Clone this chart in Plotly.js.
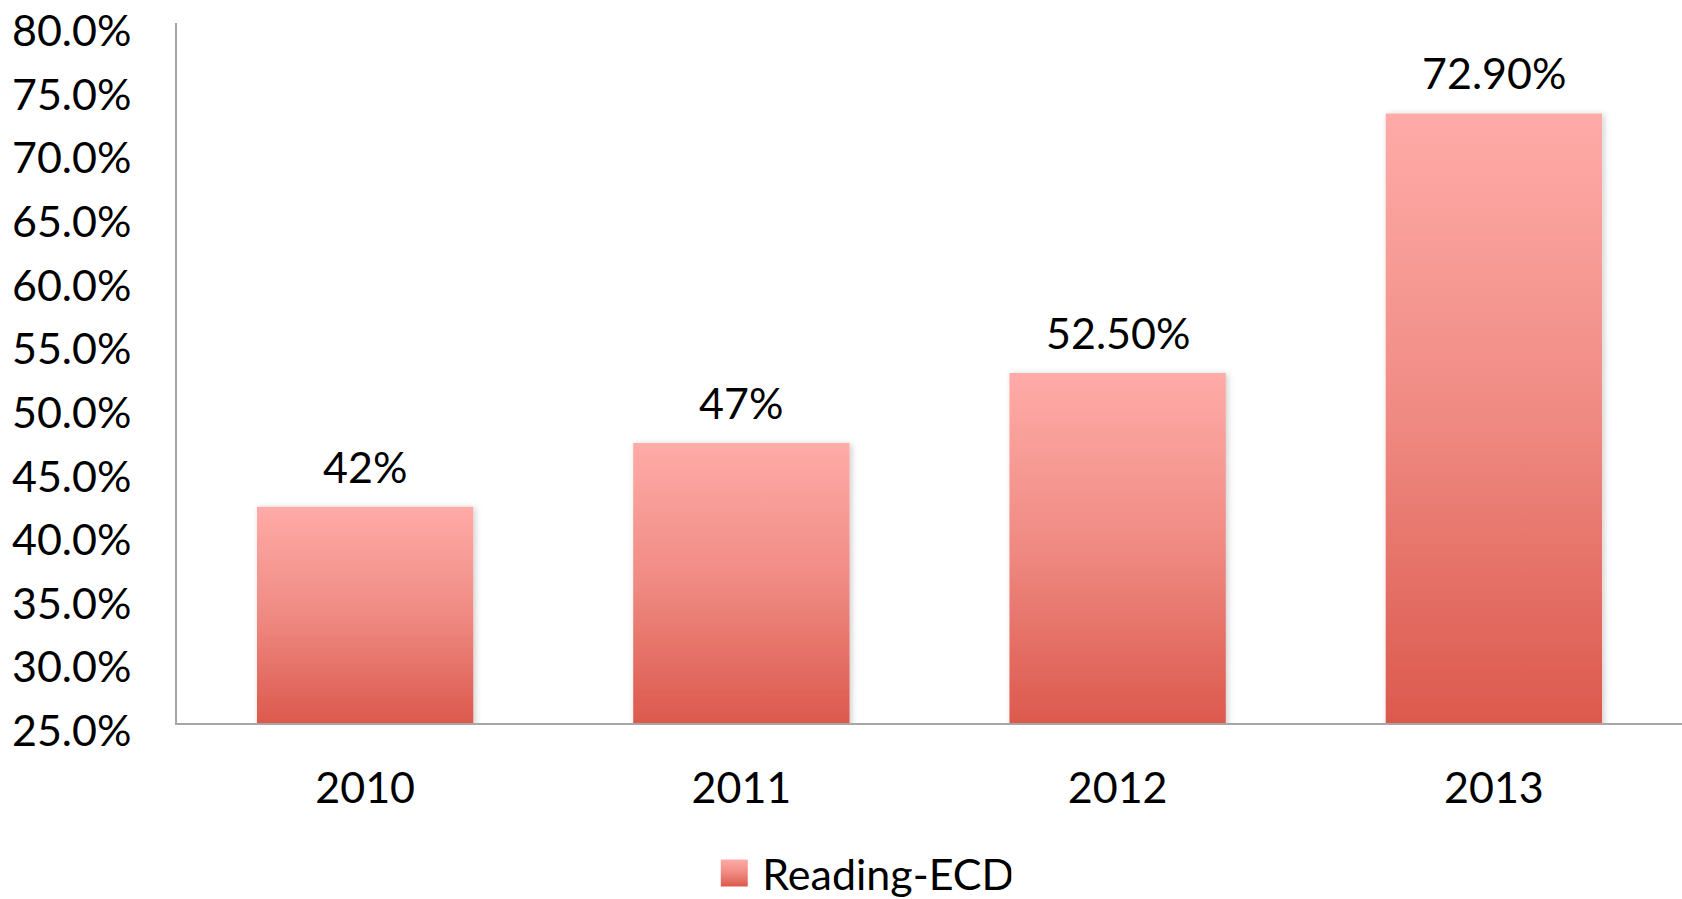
<!DOCTYPE html>
<html>
<head>
<meta charset="utf-8">
<script src="https://cdn.plot.ly/plotly-3.0.1.min.js"></script>
<style>
html,body{margin:0;padding:0;background:#fff;}
#chart{width:1682px;height:899px;}
</style>
</head>
<body>
<div id="chart"></div>
<script>
var years = ['2010', '2011', '2012', '2013'];
var readingECD = [42, 47, 52.5, 72.9];
var valueLabels = ['42%', '47%', '52.50%', '72.90%'];
var seriesName = 'Reading-ECD';
var yTickVals = [25, 30, 35, 40, 45, 50, 55, 60, 65, 70, 75, 80];
var yTickText = ['25.0%', '30.0%', '35.0%', '40.0%', '45.0%', '50.0%', '55.0%', '60.0%', '65.0%', '70.0%', '75.0%', '80.0%'];

var FONT = 'Lato, "Open Sans", sans-serif';
var FS = 43;

var trace = {
  type: 'bar',
  x: years,
  y: readingECD,
  name: seriesName,
  width: 0.575,
  marker: {color: '#ee8078', line: {width: 0}},
  hoverinfo: 'x+y'
};

var annotations = years.map(function (yr, i) {
  return {
    x: i, y: readingECD[i], xref: 'x', yref: 'y',
    text: valueLabels[i], showarrow: false,
    yanchor: 'bottom', yshift: 13,
    font: {family: FONT, size: FS, color: '#000'}
  };
});

var layout = {
  width: 1682, height: 899,
  margin: {l: 177, r: 0, t: 23, b: 176, autoexpand: false},
  paper_bgcolor: '#fff', plot_bgcolor: '#fff',
  font: {family: FONT, size: FS, color: '#000'},
  showlegend: true,
  legend: {
    orientation: 'h', x: 0.357, xanchor: 'left',
    yref: 'container', y: 0.029, yanchor: 'middle',
    font: {family: FONT, size: FS, color: '#000'}
  },
  xaxis: {
    type: 'category', range: [-0.5, 3.5], showline: true, linecolor: '#a6a6a6', linewidth: 2,
    showgrid: false, zeroline: false, ticks: '', ticklabelstandoff: 26, automargin: false,
    tickfont: {family: FONT, size: FS, color: '#000'}
  },
  yaxis: {
    range: [25, 80.01], tickmode: 'array',
    tickvals: yTickVals, ticktext: yTickText,
    showline: true, linecolor: '#a6a6a6', linewidth: 2, showgrid: false,
    zeroline: false, ticks: '', ticklabelstandoff: 35, automargin: false,
    ticklabeloverflow: 'allow', ticklabelshift: 8,
    tickfont: {family: FONT, size: FS, color: '#000'}
  },
  annotations: annotations
};

function decorate(gd) {
  var ns = 'http://www.w3.org/2000/svg';
  var svg = gd.querySelector('.main-svg');
  var defs = svg.querySelector('defs');
  var stops = [['0', '#ffaba8'], ['0.5', '#ef8a82'], ['1', '#dc594d']];
  function makeGrad(id, user, y1, y2) {
    var old = defs.querySelector('#' + id);
    if (old) old.remove();
    var lg = document.createElementNS(ns, 'linearGradient');
    lg.setAttribute('id', id);
    if (user) {
      lg.setAttribute('gradientUnits', 'userSpaceOnUse');
      lg.setAttribute('x1', '0'); lg.setAttribute('x2', '0');
      lg.setAttribute('y1', String(y1)); lg.setAttribute('y2', String(y2));
    } else {
      lg.setAttribute('x1', '0'); lg.setAttribute('y1', '0');
      lg.setAttribute('x2', '0'); lg.setAttribute('y2', '1');
    }
    stops.forEach(function (s) {
      var st = document.createElementNS(ns, 'stop');
      st.setAttribute('offset', s[0]);
      st.setAttribute('stop-color', s[1]);
      lg.appendChild(st);
    });
    defs.appendChild(lg);
  }
  if (!defs.querySelector('#barShadow')) {
    var f = document.createElementNS(ns, 'filter');
    f.setAttribute('id', 'barShadow');
    f.setAttribute('x', '-10%'); f.setAttribute('y', '-10%');
    f.setAttribute('width', '120%'); f.setAttribute('height', '120%');
    var ds = document.createElementNS(ns, 'feDropShadow');
    ds.setAttribute('dx', '2'); ds.setAttribute('dy', '1');
    ds.setAttribute('stdDeviation', '3');
    ds.setAttribute('flood-color', '#000');
    ds.setAttribute('flood-opacity', '0.2');
    f.appendChild(ds);
    defs.appendChild(f);
  }
  var plotH = gd._fullLayout.yaxis._length;
  gd.querySelectorAll('.bars .point path').forEach(function (p, i) {
    var bb = p.getBBox();
    var top = bb.y;
    var bottom = Math.min(bb.y + bb.height, plotH);
    var id = 'barGrad' + i;
    makeGrad(id, true, top, bottom);
    p.style.fill = 'url(#' + id + ')';
    p.setAttribute('filter', 'url(#barShadow)');
  });
  makeGrad('legGrad', false);
  gd.querySelectorAll('.legendpoints path').forEach(function (p) {
    p.setAttribute('d', 'M13.5,13.5H-13.5V-13.5H13.5Z');
    p.style.fill = 'url(#legGrad)';
    p.style.stroke = 'none';
  });
  gd.querySelectorAll('.legendtext').forEach(function (t) {
    t.setAttribute('x', '48');
  });
}

var gd = document.getElementById('chart');
Plotly.newPlot(gd, [trace], layout, {displayModeBar: false, responsive: false}).then(function () {
  decorate(gd);
});
</script>
</body>
</html>
